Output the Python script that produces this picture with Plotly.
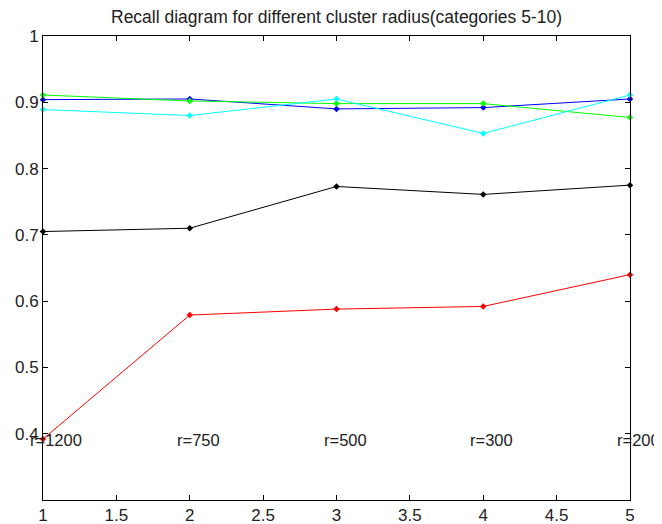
import plotly.graph_objects as go

x_vals = [1, 2, 3, 4, 5]
red_vals = [0.392, 0.579, 0.588, 0.592, 0.640]
black_vals = [0.705, 0.710, 0.773, 0.761, 0.775]
blue_vals = [0.904, 0.905, 0.890, 0.892, 0.905]
green_vals = [0.911, 0.902, 0.898, 0.898, 0.877]
cyan_vals = [0.889, 0.880, 0.905, 0.853, 0.911]
radius_labels = ["r=1200", "r=750", "r=500", "r=300", "r=200"]
label_y = 0.39

series = [
    (red_vals, "#ff0000"),
    (black_vals, "#000000"),
    (blue_vals, "#0000ff"),
    (green_vals, "#00ff00"),
    (cyan_vals, "#00ffff"),
]

FONT = "Liberation Sans, Arial, sans-serif"
W, H = 654, 516  # page body has an 8px margin

fig = go.Figure()
for vals, col in series:
    fig.add_trace(go.Scatter(
        x=x_vals, y=vals, mode="lines+markers",
        line=dict(color=col, width=1),
        marker=dict(color=col, size=5, symbol="diamond"),
        showlegend=False, hoverinfo="skip", cliponaxis=False))

for xv, lab in zip(x_vals, radius_labels):
    fig.add_annotation(x=xv, y=label_y, xref="x", yref="y", text=lab, showarrow=False,
                       xanchor="left", yanchor="middle", xshift=-15,
                       font=dict(family=FONT, size=16.5, color="#222222"))

axis_common = dict(showline=True, linecolor="#000000", linewidth=1, mirror="ticks",
                   ticks="inside", ticklen=5, tickcolor="#000000", showgrid=False,
                   zeroline=False, automargin=False,
                   tickfont=dict(family=FONT, size=17, color="#222222"))

fig.update_layout(
    width=W, height=H,
    margin=dict(l=35, r=32, t=28, b=24, autoexpand=False),
    paper_bgcolor="white", plot_bgcolor="white",
    title=dict(text="Recall diagram for different cluster radius(categories 5-10)",
               x=328.5 / W, xanchor="center", y=1 - 8.5 / H, yanchor="middle",
               font=dict(family=FONT, size=17.5, color="#222222")),
    xaxis=dict(range=[1, 5], tickvals=[1, 1.5, 2, 2.5, 3, 3.5, 4, 4.5, 5],
               ticktext=["1", "1.5", "2", "2.5", "3", "3.5", "4", "4.5", "5"], **axis_common),
    yaxis=dict(range=[0.3, 1], tickvals=[0.3, 0.4, 0.5, 0.6, 0.7, 0.8, 0.9, 1],
               ticktext=["", "0.4", "0.5", "0.6", "0.7", "0.8", "0.9", "1"], **axis_common),
)

fig.write_html("out.html")
